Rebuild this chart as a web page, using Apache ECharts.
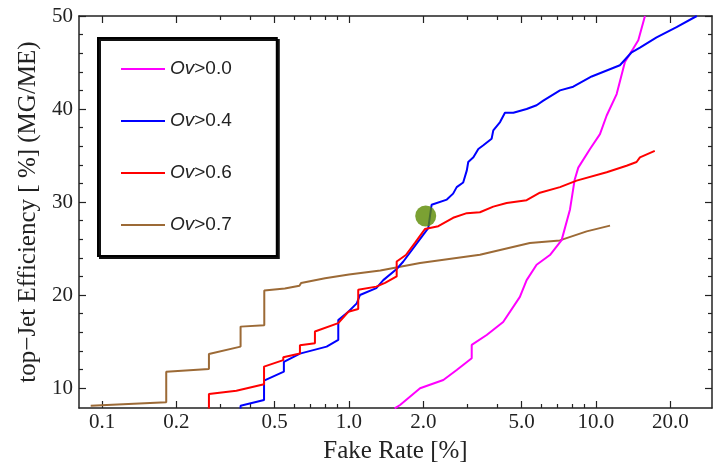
<!DOCTYPE html>
<html>
<head>
<meta charset="utf-8">
<script src="https://cdn.jsdelivr.net/npm/echarts@6/dist/echarts.min.js"></script>
<style>
  html, body { margin: 0; padding: 0; background: #fff; }
  #main { width: 716px; height: 469px; }
</style>
</head>
<body>
<div id="main"></div>
<script>
// [fake rate %, top-jet efficiency %]
const ov00 = [[1.53, 7.8], [1.61, 8.17], [1.94, 9.97], [2.41, 10.86], [2.73, 11.94], [3.14, 13.2], [3.14, 14.63],
  [3.61, 15.7], [4.21, 17.1], [4.92, 19.8], [5.24, 21.6], [5.75, 23.25], [6.51, 24.3], [7.26, 25.9], [7.85, 29.2],
  [8.2, 32.4], [8.48, 33.7], [9.46, 35.7], [10.38, 37.3], [11.05, 39.3], [12.13, 41.6], [13.1, 45.05],
  [14.16, 46.5], [14.84, 47.4], [15.79, 50]];
const ov04 = [[0.364, 7.8], [0.364, 8.09], [0.453, 8.7], [0.453, 10.8], [0.545, 11.76], [0.545, 12.8], [0.633, 13.7],
  [0.812, 14.45], [0.905, 15.17], [0.905, 17.3], [0.994, 18.2], [1.075, 19.1], [1.108, 20.0], [1.29, 20.74],
  [1.377, 21.6], [1.56, 22.8], [1.66, 23.6], [2.0, 26.5], [2.094, 27.2], [2.16, 29.7], [2.49, 30.26], [2.64, 30.9],
  [2.73, 31.6], [2.9, 32.1], [3.0, 33.4], [3.04, 34.3], [3.19, 34.8], [3.34, 35.7], [3.5, 36.1], [3.78, 36.8],
  [3.84, 37.7], [4.09, 38.6], [4.28, 39.6], [4.63, 39.6], [5.24, 40.0], [5.75, 40.4], [6.12, 40.9], [7.15, 42.0],
  [8.09, 42.4], [9.61, 43.5], [12.5, 44.7], [13.95, 46.1], [15.07, 46.6], [17.6, 47.7], [21.2, 48.8], [25.6, 50]];
const ov06 = [[0.271, 7.8], [0.271, 9.35], [0.35, 9.7], [0.453, 10.4], [0.453, 12.3], [0.542, 13.0], [0.542, 13.3],
  [0.633, 13.7], [0.633, 14.6], [0.728, 14.8], [0.728, 16.07], [0.905, 16.97], [0.994, 18.2], [1.09, 18.5],
  [1.09, 20.56], [1.29, 20.9], [1.4, 21.3], [1.56, 22.0], [1.56, 23.6], [1.7, 24.3], [1.85, 25.6], [2.03, 27.1],
  [2.3, 27.4], [2.64, 28.3], [3.0, 28.8], [3.39, 28.9], [3.84, 29.5], [4.35, 29.9], [5.24, 30.2], [5.93, 31.0],
  [7.15, 31.6], [8.35, 32.3], [11.05, 33.2], [13.3, 33.9], [14.6, 34.3], [15.07, 34.8], [17.3, 35.5]];
const ov07 = [[0.09, 8.09], [0.182, 8.46], [0.182, 11.76], [0.271, 12.05], [0.271, 13.66], [0.364, 14.45],
  [0.364, 16.6], [0.454, 16.75], [0.454, 20.49], [0.55, 20.7], [0.63, 21.0], [0.64, 21.3], [0.8, 21.8],
  [1.0, 22.2], [1.34, 22.64], [1.94, 23.43], [3.39, 24.33], [5.4, 25.6], [7.14, 25.87], [9.17, 26.84], [11.4, 27.46]];
const workingPoint = [[2.045, 28.5]];

const xMajor = [0.1, 0.2, 0.5, 1, 2, 5, 10, 20];
const xMinor = [0.3, 0.4, 0.6, 0.7, 0.8, 0.9, 3, 4, 6, 7, 8, 9];
const yMajor = [10, 20, 30, 40, 50];
const yMinor = [12, 14, 16, 18, 22, 24, 26, 28, 32, 34, 36, 38, 42, 44, 46, 48];

const ink = '#222';
const serif = 'Liberation Serif';

function xAx(pos, ticks, len, labels, line) {
  return {
    type: 'log', position: pos, min: 0.0807, max: 29.5,
    axisLine: { show: line, lineStyle: { color: ink, width: 1.5 } },
    axisTick: { show: true, inside: true, length: len, customValues: ticks, lineStyle: { color: ink, width: 1.2 } },
    axisLabel: labels ? {
      customValues: ticks, margin: 4, color: ink, fontFamily: serif, fontSize: 21,
      formatter: v => Number(v).toFixed(1)
    } : { show: false },
    splitLine: { show: false }
  };
}
function yAx(pos, ticks, len, labels, line) {
  return {
    type: 'value', position: pos, min: 7.85, max: 50,
    axisLine: { show: line, lineStyle: { color: ink, width: 1.5 } },
    axisTick: { show: true, inside: true, length: len, customValues: ticks, lineStyle: { color: ink, width: 1.2 } },
    axisLabel: labels ? { customValues: ticks, margin: 6, color: ink, fontFamily: serif, fontSize: 21 } : { show: false },
    splitLine: { show: false }
  };
}

const xAxes = [xAx('bottom', xMajor, 7, true, true), xAx('bottom', xMinor, 4, false, false),
  xAx('top', xMajor, 7, false, true), xAx('top', xMinor, 4, false, false)];
Object.assign(xAxes[0], {
  name: 'Fake Rate [%]', nameLocation: 'middle', nameGap: 31,
  nameTextStyle: { fontFamily: serif, fontSize: 25, color: ink }
});
const yAxes = [yAx('left', yMajor, 7, true, true), yAx('left', yMinor, 4, false, false),
  yAx('right', yMajor, 7, false, true), yAx('right', yMinor, 4, false, false)];
Object.assign(yAxes[0], {
  name: 'top\u2212Jet Efficiency [ %] (MG/ME)', nameLocation: 'middle', nameGap: 36, nameRotate: 90,
  nameTextStyle: { fontFamily: serif, fontSize: 25, color: ink }
});

function curve(name, data, color) {
  return { name: name, type: 'line', data: data, showSymbol: false, symbol: 'none',
    lineStyle: { color: color, width: 2 }, itemStyle: { color: color } };
}

const chart = echarts.init(document.getElementById('main'));
chart.setOption({
  animation: false,
  grid: { left: 79, right: 4, top: 16, bottom: 61, containLabel: false, outerBoundsMode: 'none' },
  xAxis: xAxes,
  yAxis: yAxes,
  legend: {
    data: ['Ov>0.0', 'Ov>0.4', 'Ov>0.6', 'Ov>0.7'],
    orient: 'vertical', left: 98, top: 38,
    padding: [21, 45, 21, 23],
    itemGap: 32, itemWidth: 44, itemHeight: 2, icon: 'rect',
    backgroundColor: '#fff', borderColor: '#000', borderWidth: 2,
    shadowColor: '#111', shadowBlur: 0, shadowOffsetX: 2, shadowOffsetY: 2,
    formatter: name => '{i|Ov}{n|' + name.slice(2) + '}',
    textStyle: {
      lineHeight: 20, color: ink,
      rich: {
        i: { fontFamily: 'Liberation Sans', fontStyle: 'italic', fontSize: 19, color: ink },
        n: { fontFamily: 'Liberation Sans', fontSize: 19, color: ink }
      }
    }
  },
  series: [
    curve('Ov>0.7', ov07, '#9c6a36'),
    curve('Ov>0.0', ov00, '#ff00ff'),
    curve('Ov>0.4', ov04, '#0000ff'),
    curve('Ov>0.6', ov06, '#ff0000'),
    { type: 'scatter', data: workingPoint, symbolSize: 21, itemStyle: { color: '#5a8a00' }, z: 5 }
  ]
});
</script>
</body>
</html>
